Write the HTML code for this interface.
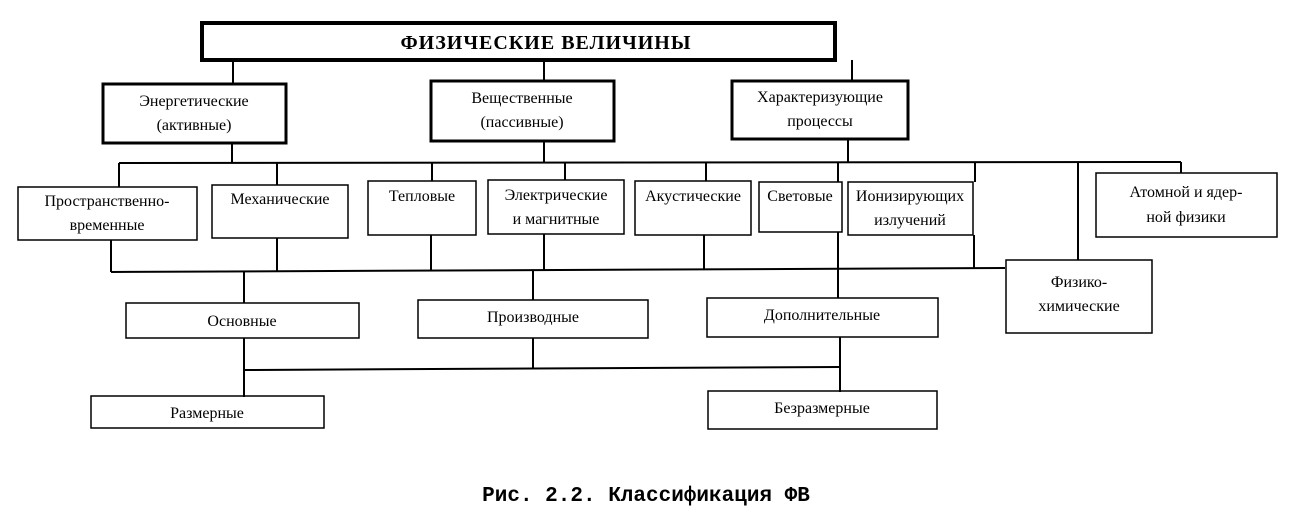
<!DOCTYPE html>
<html><head><meta charset="utf-8"><style>
html,body{margin:0;padding:0;background:#fff;}
svg{display:block;}
text{font-family:"Liberation Serif","Noto Serif CJK SC",serif;font-size:16px;fill:#000;}
</style></head><body>
<svg width="1297" height="520" viewBox="0 0 1297 520" xmlns="http://www.w3.org/2000/svg">
<g fill="none" stroke="#000">
<rect x="202" y="23" width="633" height="37" stroke-width="4"/>
<rect x="103" y="84" width="183" height="59" stroke-width="3"/>
<rect x="431" y="81" width="183" height="60" stroke-width="3"/>
<rect x="732" y="81" width="176" height="58" stroke-width="3"/>
<g stroke-width="2">
<line x1="233" y1="60" x2="233" y2="84"/>
<line x1="544" y1="60" x2="544" y2="81"/>
<line x1="852" y1="60" x2="852" y2="81"/>
<line x1="232" y1="143" x2="232" y2="163"/>
<line x1="544" y1="141" x2="544" y2="163"/>
<line x1="848" y1="139" x2="848" y2="163"/>
<line x1="119" y1="163" x2="1181" y2="162"/>
<line x1="119" y1="163" x2="119" y2="187"/>
<line x1="277" y1="163" x2="277" y2="185"/>
<line x1="432" y1="163" x2="432" y2="181"/>
<line x1="565" y1="163" x2="565" y2="180"/>
<line x1="706" y1="162" x2="706" y2="181"/>
<line x1="838" y1="162" x2="838" y2="182"/>
<line x1="975" y1="162" x2="975" y2="182"/>
<line x1="1078" y1="162" x2="1078" y2="260"/>
<line x1="1181" y1="162" x2="1181" y2="173"/>
<line x1="111" y1="240" x2="111" y2="272"/>
<line x1="277" y1="238" x2="277" y2="272"/>
<line x1="431" y1="235" x2="431" y2="271"/>
<line x1="544" y1="234" x2="544" y2="270"/>
<line x1="704" y1="235" x2="704" y2="270"/>
<line x1="838" y1="232" x2="838" y2="298"/>
<line x1="974" y1="235" x2="974" y2="269"/>
<line x1="111" y1="272" x2="1005" y2="268"/>
<line x1="244" y1="272" x2="244" y2="303"/>
<line x1="533" y1="271" x2="533" y2="300"/>
<line x1="244" y1="338" x2="244" y2="397"/>
<line x1="533" y1="338" x2="533" y2="369"/>
<line x1="840" y1="337" x2="840" y2="392"/>
<line x1="244" y1="370" x2="840" y2="367"/>
</g>
<g stroke-width="1.5">
<rect x="18" y="187" width="179" height="53"/>
<rect x="212" y="185" width="136" height="53"/>
<rect x="368" y="181" width="108" height="54"/>
<rect x="488" y="180" width="136" height="54"/>
<rect x="635" y="181" width="116" height="54"/>
<rect x="759" y="182" width="83" height="50"/>
<rect x="848" y="182" width="125" height="53"/>
<rect x="1096" y="173" width="181" height="64"/>
<rect x="1006" y="260" width="146" height="73"/>
<rect x="126" y="303" width="233" height="35"/>
<rect x="418" y="300" width="230" height="38"/>
<rect x="707" y="298" width="231" height="39"/>
<rect x="91" y="396" width="233" height="32"/>
<rect x="708" y="391" width="229" height="38"/>
</g>
</g>
<g text-anchor="middle">
<text x="546" y="49" style="font-weight:bold;font-size:20px;letter-spacing:1px">ФИЗИЧЕСКИЕ ВЕЛИЧИНЫ</text>
<text x="194" y="106">Энергетические</text>
<text x="194" y="130">(активные)</text>
<text x="522" y="103">Вещественные</text>
<text x="522" y="127">(пассивные)</text>
<text x="820" y="102">Характеризующие</text>
<text x="820" y="126">процессы</text>
<text x="107" y="206">Пространственно-</text>
<text x="107" y="230">временные</text>
<text x="280" y="204">Механические</text>
<text x="422" y="201">Тепловые</text>
<text x="556" y="200">Электрические</text>
<text x="556" y="224">и магнитные</text>
<text x="693" y="201">Акустические</text>
<text x="800" y="201">Световые</text>
<text x="910" y="201">Ионизирующих</text>
<text x="910" y="225">излучений</text>
<text x="1186" y="197">Атомной и ядер-</text>
<text x="1186" y="222">ной физики</text>
<text x="1079" y="287">Физико-</text>
<text x="1079" y="311">химические</text>
<text x="242" y="326">Основные</text>
<text x="533" y="322">Производные</text>
<text x="822" y="320">Дополнительные</text>
<text x="207" y="418">Размерные</text>
<text x="822" y="413">Безразмерные</text>
<text x="646" y="501" style="font-family:'Liberation Mono',monospace;font-weight:bold;font-size:21px">Рис. 2.2. Классификация ФВ</text>
</g>
</svg>
</body></html>
